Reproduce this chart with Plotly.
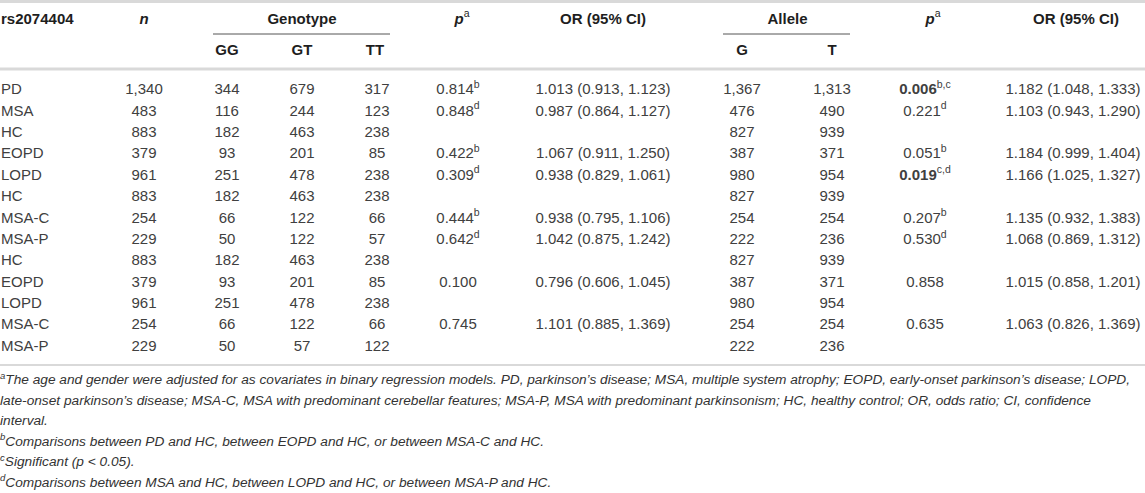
import plotly.graph_objects as go

# ---------------- data ----------------
GROUPS = ["PD", "MSA", "HC", "EOPD", "LOPD", "HC", "MSA-C", "MSA-P", "HC", "EOPD", "LOPD", "MSA-C", "MSA-P"]
N_TOTAL = [1340, 483, 883, 379, 961, 883, 254, 229, 883, 379, 961, 254, 229]
GENO_GG = [344, 116, 182, 93, 251, 182, 66, 50, 182, 93, 251, 66, 50]
GENO_GT = [679, 244, 463, 201, 478, 463, 122, 122, 463, 201, 478, 122, 57]
GENO_TT = [317, 123, 238, 85, 238, 238, 66, 57, 238, 85, 238, 66, 122]
GENO_P = [0.814, 0.848, None, 0.422, 0.309, None, 0.444, 0.642, None, 0.100, None, 0.745, None]
GENO_P_NOTE = ["b", "d", "", "b", "d", "", "b", "d", "", "", "", "", ""]
GENO_OR = [1.013, 0.987, None, 1.067, 0.938, None, 0.938, 1.042, None, 0.796, None, 1.101, None]
GENO_OR_LO = [0.913, 0.864, None, 0.911, 0.829, None, 0.795, 0.875, None, 0.606, None, 0.885, None]
GENO_OR_HI = [1.123, 1.127, None, 1.250, 1.061, None, 1.106, 1.242, None, 1.045, None, 1.369, None]
ALLELE_G = [1367, 476, 827, 387, 980, 827, 254, 222, 827, 387, 980, 254, 222]
ALLELE_T = [1313, 490, 939, 371, 954, 939, 254, 236, 939, 371, 954, 254, 236]
ALLELE_P = [0.006, 0.221, None, 0.051, 0.019, None, 0.207, 0.530, None, 0.858, None, 0.635, None]
ALLELE_P_NOTE = ["b,c", "d", "", "b", "c,d", "", "b", "d", "", "", "", "", ""]
ALLELE_OR = [1.182, 1.103, None, 1.184, 1.166, None, 1.135, 1.068, None, 1.015, None, 1.063, None]
ALLELE_OR_LO = [1.048, 0.943, None, 0.999, 1.025, None, 0.932, 0.869, None, 0.858, None, 0.826, None]
ALLELE_OR_HI = [1.333, 1.290, None, 1.404, 1.327, None, 1.383, 1.312, None, 1.201, None, 1.369, None]

SNP = "rs2074404"
HEAD_TOP = ["<i>n</i>", "Genotype", "<i>p</i>", "OR (95% CI)", "Allele", "<i>p</i>", "OR (95% CI)"]
HEAD_SUB = ["GG", "GT", "TT", "G", "T"]
FOOTNOTES = [
    "<sup>a</sup>The age and gender were adjusted for as covariates in binary regression models. PD, parkinson’s disease; MSA, multiple system atrophy; EOPD, early-onset parkinson’s disease; LOPD,",
    "late-onset parkinson’s disease; MSA-C, MSA with predominant cerebellar features; MSA-P, MSA with predominant parkinsonism; HC, healthy control; OR, odds ratio; CI, confidence",
    "interval.",
    "<sup>b</sup>Comparisons between PD and HC, between EOPD and HC, or between MSA-C and HC.",
    "<sup>c</sup>Significant (p &lt; 0.05).",
    "<sup>d</sup>Comparisons between MSA and HC, between LOPD and HC, or between MSA-P and HC.",
]

# ---------------- layout constants ----------------
W, H = 1145, 493
X_LABEL = 1
X_N, X_GG, X_GT, X_TT = 144, 227, 302, 377
X_P1, X_OR1 = 458, 603
X_G, X_T = 742, 832
X_P2, X_OR2 = 925, 1073
Y_HEAD1, Y_HEAD2 = 20, 51
Y0, STEP = 90.5, 21.38
FN_Y0, FN_STEP = 381, 20.5

FONT = "Liberation Sans, Arial, sans-serif"
DATA_COLOR = "#404040"
HEAD_COLOR = "#1e1e1e"
FS = 15
FN_FS = 13.7


def fmt_int(v):
    return "" if v is None else f"{v:,}"


def fmt_p(v, note):
    if v is None:
        return ""
    s = f"{v:.3f}"
    if "c" in note:
        s = f"<b>{s}</b>"
    if note:
        s += f"<sup>{note}</sup>"
    return s


def fmt_or(v, lo, hi):
    if v is None:
        return ""
    return f"{v:.3f} ({lo:.3f}, {hi:.3f})"


rows_y = [Y0 + i * STEP for i in range(len(GROUPS))]

fig = go.Figure()


def add_text(xs, ys, texts, pos="middle center", color=DATA_COLOR, size=FS):
    keep = [(x, y, t) for x, y, t in zip(xs, ys, texts) if t]
    fig.add_trace(go.Scatter(
        x=[k[0] for k in keep], y=[k[1] for k in keep], text=[k[2] for k in keep],
        mode="text", textposition=pos, hoverinfo="skip",
        textfont=dict(family=FONT, size=size, color=color),
    ))


def add_col(x, texts, **kw):
    add_text([x] * len(texts), rows_y, texts, **kw)


# data columns
add_col(X_LABEL, GROUPS, pos="middle right")
add_col(X_N, [fmt_int(v) for v in N_TOTAL])
add_col(X_GG, [fmt_int(v) for v in GENO_GG])
add_col(X_GT, [fmt_int(v) for v in GENO_GT])
add_col(X_TT, [fmt_int(v) for v in GENO_TT])
add_col(X_P1, [fmt_p(v, n) for v, n in zip(GENO_P, GENO_P_NOTE)])
add_col(X_OR1, [fmt_or(a, b, c) for a, b, c in zip(GENO_OR, GENO_OR_LO, GENO_OR_HI)])
add_col(X_G, [fmt_int(v) for v in ALLELE_G])
add_col(X_T, [fmt_int(v) for v in ALLELE_T])
add_col(X_P2, [fmt_p(v, n) for v, n in zip(ALLELE_P, ALLELE_P_NOTE)])
add_col(X_OR2, [fmt_or(a, b, c) for a, b, c in zip(ALLELE_OR, ALLELE_OR_LO, ALLELE_OR_HI)])

# headers
add_text([X_LABEL], [Y_HEAD1], [f"<b>{SNP}</b>"], pos="middle right", color=HEAD_COLOR)
head1_x = [X_N, (X_GG + X_TT) / 2, X_P1 + 4, X_OR1, (X_G + X_T) / 2 + 0.5, X_P2 + 8, X_OR2 + 3]
head1_t = []
for t in HEAD_TOP:
    s = f"<b>{t}</b>"
    if t == "<i>p</i>":
        s += "<sup>a</sup>"
    head1_t.append(s)
add_text(head1_x, [Y_HEAD1] * len(head1_x), head1_t, color=HEAD_COLOR)
head2_x = [X_GG, X_GT, X_TT - 2, X_G, X_T]
add_text(head2_x, [Y_HEAD2] * len(head2_x), [f"<b>{t}</b>" for t in HEAD_SUB], color=HEAD_COLOR)

# footnotes
fn_y = [FN_Y0 + i * FN_STEP for i in range(len(FOOTNOTES))]
add_text([0] * len(FOOTNOTES), fn_y, [f"<i>{t}</i>" for t in FOOTNOTES], pos="middle right",
         color="#333333", size=FN_FS)

# rules
shapes = [
    dict(type="line", x0=0, x1=W, y0=1.5, y1=1.5, line=dict(color="#d9d9d9", width=3)),
    dict(type="line", x0=0, x1=W, y0=69, y1=69, line=dict(color="#d9d9d9", width=3)),
    dict(type="line", x0=0, x1=W, y0=365, y1=365, line=dict(color="#d9d9d9", width=2)),
    dict(type="line", x0=213, x1=390, y0=34, y1=34, line=dict(color="#555555", width=1)),
    dict(type="line", x0=723, x1=850, y0=34, y1=34, line=dict(color="#555555", width=1)),
]
for s in shapes:
    s.update(xref="x", yref="y", layer="below")

fig.update_layout(
    width=W, height=H, margin=dict(l=0, r=0, t=0, b=0),
    paper_bgcolor="white", plot_bgcolor="white", showlegend=False,
    xaxis=dict(range=[0, W], visible=False, fixedrange=True),
    yaxis=dict(range=[H, 0], visible=False, fixedrange=True),
    shapes=shapes,
)

fig.write_html("out.html", config={"displayModeBar": False, "staticPlot": True},
               post_script="document.body.style.margin='0';document.body.style.overflow='hidden';")
